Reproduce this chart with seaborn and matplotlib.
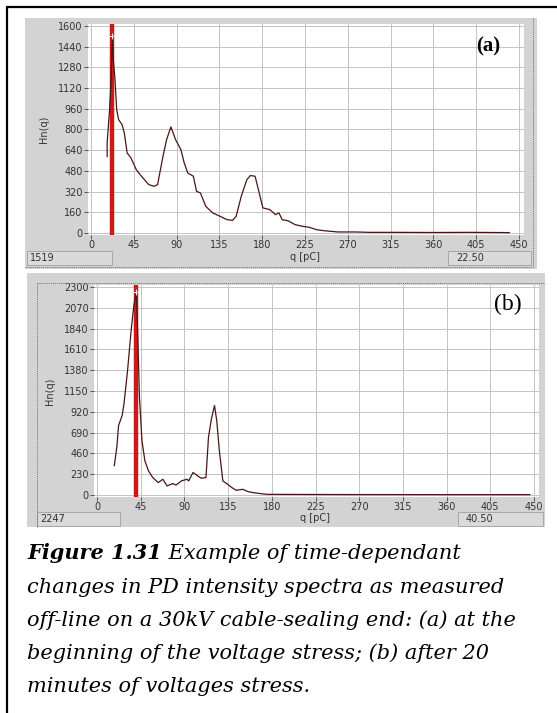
import matplotlib
matplotlib.use("Agg")
import matplotlib.pyplot as plt
import seaborn as sns
import pandas as pd
from matplotlib.patches import Rectangle
from matplotlib.lines import Line2D
from matplotlib import font_manager

# ---------------- data ----------------
q_a = [17, 17, 19.5, 21, 22.5, 23.5, 25, 27, 29, 32.6, 35, 38, 42, 47.6, 53, 60.7, 66.4, 70,
       75.7, 79.5, 84, 88.9, 94.5, 98, 101.7, 107.6, 111, 115, 120.7, 128, 135.7, 143, 148.9,
       152.6, 158, 163.9, 167.6, 172.5, 176, 180.7, 188, 193.9, 197.6, 201, 207, 214.5, 222,
       229.5, 237, 244.5, 259.5, 278, 293, 320, 360, 400, 440]
hn_a = [590, 700, 950, 1160, 1519, 1330, 1210, 955, 877, 838, 774, 619, 580, 490, 439, 374, 361,
        374, 593, 722, 820, 722, 645, 542, 464, 439, 322, 310, 206, 155, 129, 103, 98, 129, 284,
        413, 444, 439, 335, 194, 181, 142, 155, 103, 95, 65, 52, 44, 26, 18, 8, 8, 5, 5, 4, 5, 3]
cursor_a = 22.5
readout_a = "1519"
cursor_txt_a = "22.50"

q_b = [17.8, 20.4, 22.2, 25.9, 27.8, 31.5, 35.2, 38, 40.5, 42, 43.7, 46.3, 49.3, 53, 57.4, 63,
       67.8, 72.2, 77.8, 81.5, 87, 92.6, 94.4, 98.9, 103.7, 107.4, 112.2, 114.8, 117.8, 121,
       123.3, 126, 129.6, 134.4, 138.9, 143.3, 150, 155.6, 161, 168.5, 176, 183, 250, 350, 446]
hn_b = [323, 527, 768, 879, 1009, 1380, 1825, 2100, 2247, 1751, 1083, 601, 378, 267, 193, 137,
        174, 100, 126, 111, 156, 174, 156, 249, 211, 185, 193, 638, 842, 990, 823, 490, 156, 119,
        82, 52, 63, 37, 26, 15, 7, 7, 5, 4, 4]
cursor_b = 40.5
readout_b = "2247"
cursor_txt_b = "40.50"

xticks = [0, 45, 90, 135, 180, 225, 270, 315, 360, 405, 450]
yticks_a = [0, 160, 320, 480, 640, 800, 960, 1120, 1280, 1440, 1600]
yticks_b = [0, 230, 460, 690, 920, 1150, 1380, 1610, 1840, 2070, 2300]
xlabel = "q [pC]"
ylabel = "Hn(q)"

caption_bold = "Figure 1.31"
caption_lines = [" Example of time-dependant",
                 "changes in PD intensity spectra as measured",
                 "off-line on a 30kV cable-sealing end: (a) at the",
                 "beginning of the voltage stress; (b) after 20",
                 "minutes of voltages stress."]

# ---------------- setup ----------------
sns.set_theme(style="white")
plt.rcParams['font.family'] = ['DejaVu Sans']

installed = {f.name for f in font_manager.fontManager.ttflist}
BOLD_FAMILY = 'DejaVu Serif Condensed' if 'DejaVu Serif Condensed' in installed else 'DejaVu Serif'

W, H = 557, 713
fig = plt.figure(figsize=(W / 100, H / 100), dpi=100)
fig.patch.set_facecolor('white')

GRAY = '#d3d3d3'
BOX = '#dadada'
LINE = '#4a1515'
RED = '#cc1a1a'
DOT = dict(color='#707070', lw=0.7, linestyle=(0, (1, 1)))


def rect(x0, y0, x1, y1, **kw):
    r = Rectangle((x0 / W, 1 - y1 / H), (x1 - x0) / W, (y1 - y0) / H,
                  transform=fig.transFigure, **kw)
    fig.add_artist(r)
    return r


def fline(xs, ys, **kw):
    fig.add_artist(Line2D([x / W for x in xs], [1 - y / H for y in ys],
                          transform=fig.transFigure, **kw))


def ftext(x, y, s, **kw):
    return fig.text(x / W, 1 - y / H, s, **kw)


def panel(df, cursor, readout, cursor_txt, yticks, bg, px0, px450, pytop, py0, ylab_x,
          ybox, box_l, box_r, tag, tagpos, tagkw):
    gx0, gy0, gx1, gy1 = bg
    rect(gx0, gy0, gx1, gy1, facecolor=GRAY, edgecolor='none', zorder=0)
    ymax = yticks[-1]
    sx = (px450 - px0) / 450.0
    sy = (py0 - pytop) / float(ymax)
    xl = (-3, 455)
    yl = (-0.008 * ymax, ymax * 1.008)
    left = px0 + xl[0] * sx
    right = px0 + xl[1] * sx
    top = py0 - yl[1] * sy
    bot = py0 - yl[0] * sy
    ax = fig.add_axes([left / W, 1 - bot / H, (right - left) / W, (bot - top) / H])
    ax.set_facecolor('white')
    ax.set_xlim(*xl)
    ax.set_ylim(*yl)
    ax.set_xticks(xticks)
    ax.set_yticks(yticks)
    ax.grid(True, color='#c4c4c4', lw=0.7)
    for s in ax.spines.values():
        s.set_visible(False)
    ax.tick_params(axis='both', direction='out', length=3, width=0.7, color='#555555',
                   labelsize=7, labelcolor='#333333', pad=1, left=True, bottom=True)
    ax.axvline(cursor, color=RED, lw=3.2, zorder=2)
    sns.lineplot(data=df, x='q', y='hn', ax=ax, estimator=None, sort=False,
                 color=LINE, lw=0.9, zorder=3)
    ax.plot([cursor], [float(readout)], marker='+', color='#f0e0e0', ms=4, mew=0.8, zorder=4)
    ax.set_xlabel('')
    ax.set_ylabel('')
    ftext(ylab_x, (pytop + py0) / 2, ylabel, rotation=90, fontsize=7, color='#333333',
          ha='center', va='center')
    ftext((px0 + px450) / 2, ybox[0] + 6, xlabel, fontsize=7, color='#333333',
          ha='center', va='center')
    rect(box_l[0], ybox[0], box_l[1], ybox[1], facecolor=BOX, edgecolor='#a0a0a0', lw=0.6,
         zorder=1)
    ftext(box_l[0] + 3, (ybox[0] + ybox[1]) / 2 + 0.5, readout, fontsize=7, color='#333333',
          va='center', ha='left')
    rect(box_r[0], ybox[0], box_r[1], ybox[1], facecolor=BOX, edgecolor='#a0a0a0', lw=0.6,
         zorder=1)
    ftext(box_r[0] + 8, (ybox[0] + ybox[1]) / 2 + 0.5, cursor_txt, fontsize=7, color='#333333',
          va='center', ha='left')
    ftext(tagpos[0], tagpos[1], tag, ha='center', va='center', family='Liberation Serif',
          color='black', **tagkw)
    return ax


df_a = pd.DataFrame({'q': q_a, 'hn': hn_a})
df_b = pd.DataFrame({'q': q_b, 'hn': hn_b})

panel(df_a, cursor_a, readout_a, cursor_txt_a, yticks_a,
      bg=(25, 18, 537, 269), px0=91, px450=519, pytop=26, py0=233, ylab_x=44,
      ybox=(251, 265), box_l=(27, 112), box_r=(448, 531), tag='(a)', tagpos=(488, 46),
      tagkw=dict(fontsize=15, fontweight='bold'))
fline([533, 533], [18, 267], **DOT)
fline([25, 533], [267, 267], **DOT)

panel(df_b, cursor_b, readout_b, cursor_txt_b, yticks_b,
      bg=(27, 273, 545, 527), px0=97, px450=534, pytop=287, py0=495, ylab_x=50,
      ybox=(512, 526), box_l=(37, 120), box_r=(458, 543), tag='(b)', tagpos=(508, 304),
      tagkw=dict(fontsize=17))
fline([37, 37], [283, 527], **DOT)
fline([37, 545], [283, 283], **DOT)

# outer frame
fline([6.5, 6.5], [7, 713], color='black', lw=1.6)
fline([6.5, 557], [7, 7], color='black', lw=1.6)

# caption
fig.canvas.draw()
r = fig.canvas.get_renderer()
fs = 17
probe = ftext(27, 600, caption_lines[1], family='DejaVu Serif', style='italic', fontsize=fs)
wpx = probe.get_window_extent(r).width
probe.remove()
fs = fs * 477.0 / wpx

baselines = [559, 593, 626, 659, 692]
tb = ftext(27, baselines[0], caption_bold, family=BOLD_FAMILY, style='italic',
           fontweight='bold', fontsize=fs, va='baseline', color='black')
bw = tb.get_window_extent(r).width
ftext(27 + bw, baselines[0], caption_lines[0], family='DejaVu Serif', style='italic',
      fontsize=fs, va='baseline', color='black')
for i in range(1, 5):
    ftext(27, baselines[i], caption_lines[i], family='DejaVu Serif', style='italic',
          fontsize=fs, va='baseline', color='black')

fig.savefig('out.png', dpi=100, facecolor='white')
